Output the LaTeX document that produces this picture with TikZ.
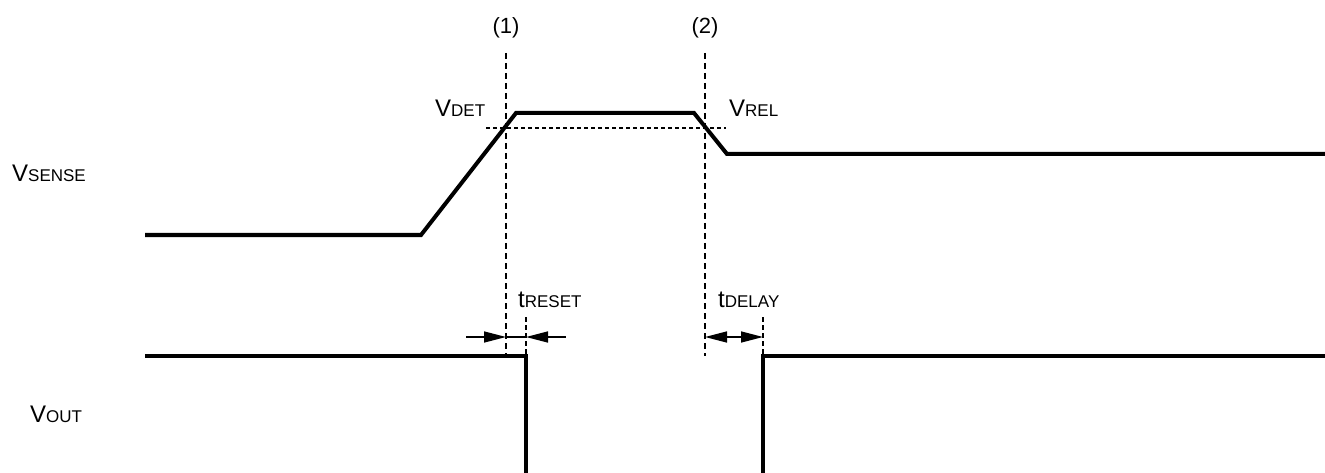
\documentclass[tikz,border=0pt]{standalone}
\usepackage{fontspec}
\setmainfont{Liberation Sans}
\usetikzlibrary{arrows.meta}

\newcommand{\signame}[2]{{\fontsize{24}{24}\selectfont #1}{\fontsize{17}{17}\selectfont #2}}
\tikzset{
  wave/.style={line width=4pt},
  guide/.style={line width=1.5pt, dash pattern=on 6pt off 4pt},
  level/.style={line width=1.5pt, dash pattern=on 4pt off 3pt},
  span/.style={line width=1.5pt},
  tip/.tip={Triangle[length=22pt, width=11pt]},
  lbl/.style={inner sep=0pt, anchor=base west},
  marklbl/.style={inner sep=0pt, font=\fontsize{22}{22}\selectfont}
}

\begin{document}
\begin{tikzpicture}[x=1pt, y=-1pt]
            \useasboundingbox (0,0) rectangle (1325,473);

            % Signal names
            \node[lbl] (sense) at (12,182) {\signame{V}{SENSE}};
            \node[lbl] (out) at (30,422) {\signame{V}{OUT}};

            % Marker lines (1) and (2)
            \coordinate (m1top) at (506,53);
            \coordinate (m1bot) at (506,354);
            \coordinate (m2top) at (705,53);
            \coordinate (m2bot) at (705,356);
            \node[marklbl] (mark1) at (506,28) {(1)};
            \node[marklbl] (mark2) at (705,28) {(2)};
            \draw[guide] (m1top) -- (m1bot);
            \draw[guide] (m2top) -- (m2bot);

            % Threshold level
            \coordinate (thl) at (486,128);
            \coordinate (thr) at (726,128);
            \draw[level] (thl) -- (thr);
            \node[lbl] (vdet) at (435,117) {\signame{V}{DET}};
            \node[lbl] (vrel) at (729,117) {\signame{V}{REL}};

            % Input waveform
            \draw[wave] (145,235) -- (421,235) -- (516,113) -- (694,113) -- (727,154) -- (1330,154);

            % Output waveform
            \draw[wave] (145,356) -- (526,356) -- (526,480);
            \draw[wave] (763,480) -- (763,356) -- (1330,356);

            % Timing marks
            \coordinate (rst) at (526,317);
            \coordinate (dly) at (763,317);
            \draw[guide, dash pattern=on 5pt off 3pt] (rst) -- (526,356);
            \draw[guide, dash pattern=on 5pt off 3pt] (dly) -- (763,356);
            \draw[span, -tip] (466,337) -- (506,337);
            \draw[span] (506,337) -- (526,337);
            \draw[span, tip-] (526,337) -- (566,337);
            \draw[span, tip-tip] (705,337) -- (763,337);
            \node[lbl] (treset) at (518,307) {\signame{t}{RESET}};
            \node[lbl] (tdelay) at (718,307) {\signame{t}{DELAY}};
\end{tikzpicture}
\end{document}
